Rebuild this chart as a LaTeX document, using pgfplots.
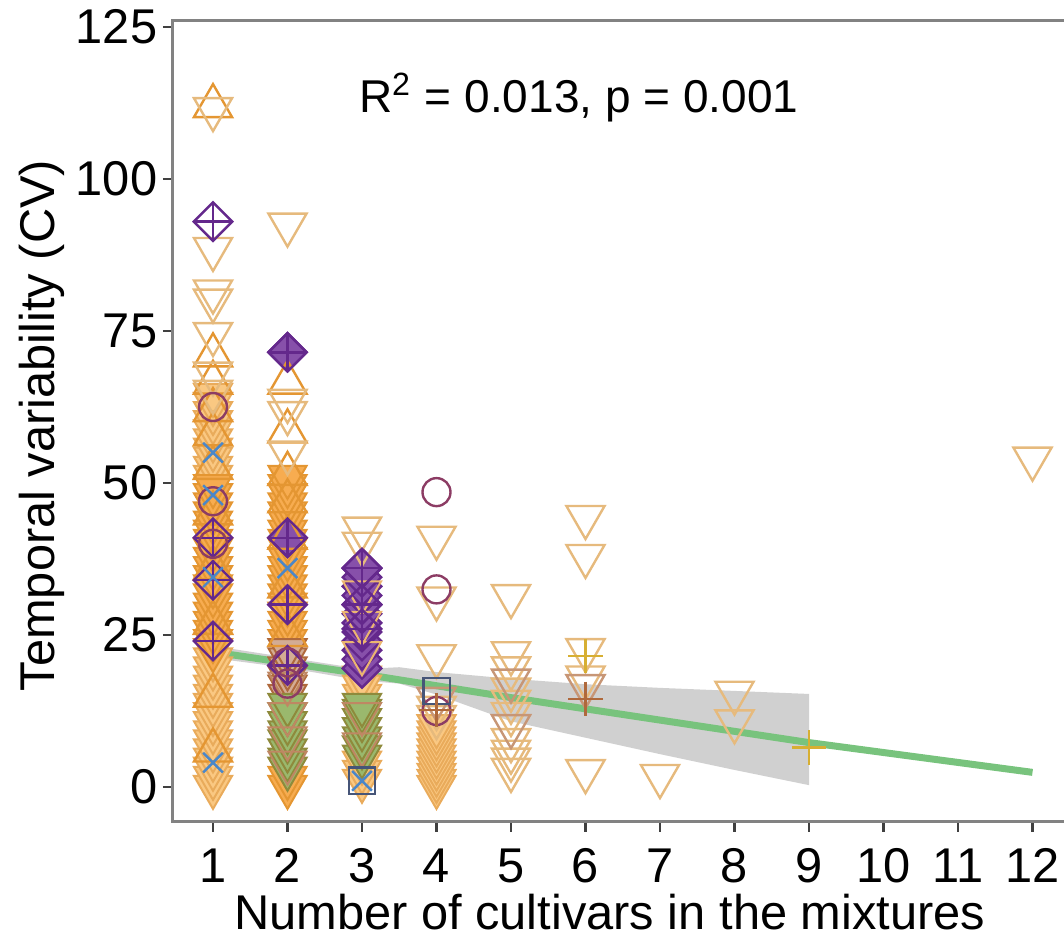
\documentclass[border=0pt]{standalone}
\usepackage{pgfplots}
\pgfplotsset{compat=1.18}
\usepackage{fontspec}
\setmainfont{Liberation Sans}
\definecolor{tanc}{RGB}{230,186,125}
\definecolor{orng}{RGB}{228,150,50}
\definecolor{orfill}{RGB}{247,172,80}
\definecolor{orfillL}{RGB}{250,200,130}
\definecolor{brn}{RGB}{175,105,60}
\definecolor{purp}{RGB}{100,40,140}
\definecolor{purfill}{RGB}{135,80,170}
\definecolor{grn}{RGB}{120,160,60}
\definecolor{blu}{RGB}{75,135,200}
\definecolor{maro}{RGB}{140,60,100}
\definecolor{gld}{RGB}{215,175,50}
\definecolor{slate}{RGB}{70,85,120}
\definecolor{regl}{RGB}{120,195,125}
\definecolor{bandc}{RGB}{200,200,200}
\definecolor{axgray}{RGB}{130,130,130}
\begin{document}
\begin{tikzpicture}
\path[use as bounding box] (-43.25pt,-29.75pt) rectangle (222.75pt,205.5pt);
\begin{axis}[
  scale only axis, width=224.19pt, height=200.25pt,
  xmin=0.463, xmax=12.5, ymin=-5.76, ymax=126.0,
  xtick={1,...,12}, ytick={0,25,50,75,100,125},
  tick align=outside, major tick length=2.5pt,
  xtick pos=left, ytick pos=left,
  axis line style={draw=axgray, line width=0.75pt},
  tick style={black!75, line width=0.6pt},
  /pgf/number format/assume math mode=true,
  ticklabel style={font=\fontsize{12.2}{14}\selectfont, text=black},
  yticklabel style={inner sep=0pt, xshift=-1.25pt},
  xticklabel style={inner sep=0pt, yshift=-4pt},
  xlabel={Number of cultivars in the mixtures},
  ylabel={Temporal variability (CV)},
  xlabel style={font=\fontsize{12.2}{14}\selectfont, at={(axis description cs:0.487,-0.134)}, anchor=base},
  ylabel style={font=\fontsize{12.2}{14}\selectfont, at={(axis description cs:-0.146,0.495)}, anchor=center},
  clip=false,
]
% confidence band
\addplot[draw=none, fill=bandc, fill opacity=0.85] coordinates {
 (1,23.2) (2,21.3) (3,19.4) (3.5,19.7) (4,18.9) (5,17.8) (6,16.9) (7,16.3) (8,15.8) (9,15.3)
 (9,0.3) (8,2.8) (7,5.4) (6,8.1) (5,10.8) (4,15.2) (3.5,17.0) (3,17.5) (2,19.6) (1,21.2)} -- cycle;

% dense columns, filled down triangles
\addplot[only marks, mark=triangle*, mark size=5.5pt, mark options={rotate=180, fill=orfillL, draw=orng!80, line width=0.5pt}] coordinates {
 (1,0) (1,1.5) (1,3) (1,4.5) (1,6) (1,7.5) (1,9) (1,10.5) (1,12) (1,13.5) (1,15) (1,16.5) (1,18) (1,19.5) (1,21)
 (1,51) (1,52.5) (1,54) (1,55.5) (1,57) (1,58.5) (1,60) (1,61.5) (1,63) (1,64.5)
 (3,1) (3,2.5) (3,4) (3,15) (3,16.5) (3,18)
 (4,0) (4,1) (4,2) (4,3) (4,4) (4,5) (4,6) (4,7) (4,8) (4,9) (4,10)};
\addplot[only marks, mark=triangle*, mark size=5.5pt, mark options={rotate=180, fill=orfill, draw=orng, line width=0.5pt}] coordinates {
 (1,22.5) (1,24) (1,25.5) (1,27) (1,28.5) (1,30) (1,31.5) (1,33) (1,34.5) (1,36) (1,37.5) (1,39) (1,40.5) (1,42) (1,43.5) (1,45) (1,46.5) (1,48) (1,49.5)
 (2,0) (2,1.5) (2,24) (2,25.5) (2,27) (2,28.5) (2,30) (2,31.5) (2,33) (2,34.5) (2,36) (2,37.5) (2,39) (2,40.5) (2,42) (2,43.5) (2,45) (2,46.5) (2,48) (2,49.5) (2,51)};
\addplot[only marks, mark=triangle*, mark size=5.5pt, mark options={rotate=180, fill=brn!55, draw=brn, line width=0.5pt}] coordinates {
 (2,15) (2,16.5) (2,18) (2,19.5) (2,21) (2,22.5)};
\addplot[only marks, mark=triangle*, mark size=5.5pt, mark options={rotate=180, fill=grn!75, draw=grn!60!brn, line width=0.5pt}] coordinates {
 (2,3) (2,4.5) (2,6) (2,7.5) (2,9) (2,10.5) (2,12) (2,13.5)
 (3,5) (3,6.5) (3,8) (3,9.5) (3,11) (3,12.5) (3,13.5)};
\addplot[only marks, mark=triangle, mark size=5.5pt, mark options={rotate=180, draw=brn!80, line width=0.5pt}] coordinates {
 (2,4) (2,8) (2,12) (2,17) (3,7) (3,12)};
\addplot[only marks, mark=square*, mark size=3.4pt, mark options={rotate=45, fill=purfill, draw=purp, line width=0.6pt}] coordinates {
 (3,19.5) (3,21) (3,22.5) (3,24) (3,25.5) (3,27) (3,28.5) (3,30) (3,31.5) (3,33) (3,34.5) (3,36)
 (2,71.5) (2,41)};
\addplot[only marks, mark=triangle, mark size=5.5pt, mark options={rotate=180, draw=orng!70, line width=0.5pt}] coordinates {
 (3,22) (3,27) (3,32)};

% outline up triangles
\addplot[only marks, mark=triangle, mark size=5.5pt, mark options={draw=orng, line width=0.6pt}] coordinates {
 (1,112) (1,71) (1,66.5) (1,62) (1,58) (1,52.5) (1,45) (1,36) (1,27) (1,15) (1,6)
 (2,66.5) (2,58.5) (2,51.5) (2,47) (2,41) (2,33) (2,25)};
% outline down triangles
\addplot[only marks, mark=triangle, mark size=5.5pt, mark options={rotate=180, draw=tanc, line width=0.6pt}] coordinates {
 (1,111.5) (1,88.5) (1,81.5) (1,80) (1,74.5) (1,68) (1,65)
 (2,92.5) (2,63.5) (2,61.5) (2,55)
 (3,42.5) (3,40)
 (4,41) (4,31) (4,21.5) (4,11.5) (4,13)
 (5,31.4) (5,22) (5,19.5) (5,16) (5,14) (5,12) (5,7.7) (5,5.8) (5,4.5) (5,2.8)
 (6,44.4) (6,38) (6,22.5) (6,18) (6,2.6)
 (7,1.8) (8,15.5) (8,10.8) (12,54)};
\addplot[only marks, mark=triangle, mark size=5.5pt, mark options={rotate=180, draw=brn!70, line width=0.6pt}] coordinates {
 (5,17.5) (5,10) (6,16.6) (4,14.5)};
% purple diamonds with plus
\addplot[only marks, mark=square, mark size=3.4pt, mark options={rotate=45, draw=purp, line width=0.6pt}] coordinates {
 (1,93) (1,24) (1,34) (1,41) (2,71.5) (2,41) (2,30) (2,20) (3,36) (3,30) (3,26)};
\addplot[only marks, mark=+, mark size=4.5pt, mark options={draw=purp, line width=0.6pt}] coordinates {
 (1,93) (1,24) (1,34) (1,41) (2,71.5) (2,41) (2,30) (2,20) (3,36) (3,30) (3,26)};
% maroon circles
\addplot[only marks, mark=o, mark size=3.5pt, mark options={draw=maro, line width=0.6pt}] coordinates {
 (1,62.5) (1,47) (1,40) (2,17) (2,20.5) (4,48.5) (4,32.5) (4,12.5)};
% blue crosses
\addplot[only marks, mark=x, mark size=3.5pt, mark options={draw=blu, line width=0.6pt}] coordinates {
 (1,55) (1,34.5) (1,48) (1,4) (2,36) (3,1)};
% slate squares
\addplot[only marks, mark=square, mark size=3.3pt, mark options={draw=slate, line width=0.6pt}] coordinates {
 (3,1) (4,15.8)};
% plus marks
\addplot[only marks, mark=+, mark size=4.3pt, mark options={draw=gld, line width=0.6pt}] coordinates {
 (6,21.5) (9,6.5)};
\addplot[only marks, mark=+, mark size=4.3pt, mark options={draw=brn, line width=0.6pt}] coordinates {
 (6,14.5) (4,12.7)};

% regression line
\addplot[regl, line width=1.75pt, no marks] coordinates {
 (1,22.2) (3,18.6) (5,14.7) (7,11.0) (9,7.3) (12,2.4)};

\node[anchor=base west, font=\fontsize{11.5}{13}\selectfont] at (axis cs:2.77,110.9) {R\textsuperscript{2} = 0.013, p = 0.001};
\end{axis}
\end{tikzpicture}
\end{document}
